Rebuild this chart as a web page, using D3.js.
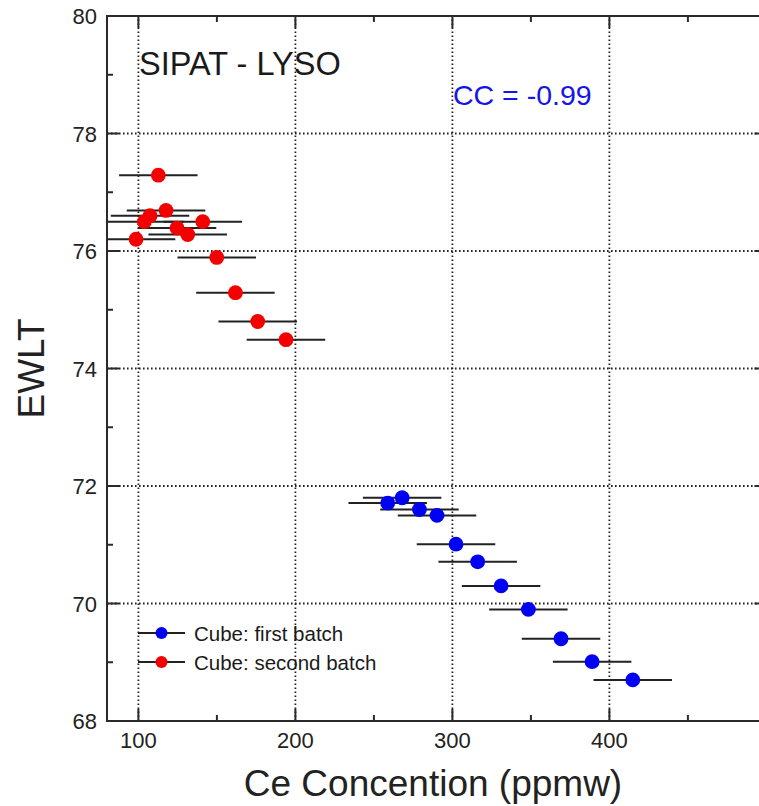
<!DOCTYPE HTML>
<html>
	<head>
		<meta charset="utf-8">
		<title>SIPAT - LYSO EWLT vs Ce</title>
		<style>
body {
  margin: 0;
  background: #fff;
  overflow: hidden;
}
svg {
  display: block;
  font-family: "Liberation Sans", Arial, sans-serif;
}
.frame {
  fill: none;
  stroke: #2a2a2a;
  stroke-width: 2px;
}
.grid {
  stroke: #222;
  stroke-width: 1.8px;
  stroke-dasharray: 1.6,2.4;
}
.tick {
  stroke: #2a2a2a;
  stroke-width: 2px;
}
.errbar {
  stroke: #222;
  stroke-width: 2px;
}
.ticklabel {
  font-size: 22px;
  fill: #222;
}
		</style>
	</head>
	<body>
<script src="https://cdnjs.cloudflare.com/ajax/libs/d3/7.8.5/d3.min.js"></script>
<script>
// values
var firstBatchCe   = [258.8, 268.0, 279.0, 290.2, 302.3, 316.1, 331.0, 348.4, 369.2, 389.0, 414.9];
var firstBatchEwlt = [71.71, 71.80, 71.60, 71.50, 71.01, 70.71, 70.30, 69.90, 69.40, 69.01, 68.70];
var firstBatchErr  = [25, 25, 25, 25, 25, 25, 25, 25, 25, 25, 25];

var secondBatchCe   = [112.7, 117.6, 107.4, 103.8, 141.0, 124.6, 131.4, 98.5, 149.9, 161.8, 176.0, 194.0];
var secondBatchEwlt = [77.29, 76.69, 76.60, 76.50, 76.50, 76.39, 76.28, 76.20, 75.89, 75.29, 74.80, 74.49];
var secondBatchErr  = [25, 25, 25, 25, 25, 25, 25, 25, 25, 25, 25, 25];

var xTicks = [100, 200, 300, 400];
var xMinorTicks = [150, 250, 350, 450];
var yTicks = [68, 70, 72, 74, 76, 78, 80];
var yMinorTicks = [69, 71, 73, 75, 77, 79];

var seriesNames = ["Cube: first batch", "Cube: second batch"];
var seriesColors = ["#0000f5", "#f50000"];

var width = 759,
    height = 806;

var x = d3.scaleLinear().domain([80, 500]).range([107, 766.4]);
var y = d3.scaleLinear().domain([68, 80]).range([721, 16]);

var svg = d3.select("body").append("svg")
    .attr("width", width)
    .attr("height", height);

// clip to plot box
svg.append("clipPath")
    .attr("id", "plotclip")
  .append("rect")
    .attr("x", x.range()[0])
    .attr("y", y.range()[1])
    .attr("width", x.range()[1] - x.range()[0])
    .attr("height", y.range()[0] - y.range()[1]);

// dotted grid
svg.selectAll(".gridx")
    .data(xTicks)
  .enter().append("line")
    .attr("class", "grid")
    .attr("x1", function(d) { return x(d); })
    .attr("x2", function(d) { return x(d); })
    .attr("y1", y.range()[0])
    .attr("y2", y.range()[1]);

svg.selectAll(".gridy")
    .data(yTicks.slice(1, -1))
  .enter().append("line")
    .attr("class", "grid")
    .attr("x1", x.range()[0])
    .attr("x2", x.range()[1])
    .attr("y1", function(d) { return y(d); })
    .attr("y2", function(d) { return y(d); });

// ticks on all four sides
function drawTicks(vals, len, isX) {
  vals.forEach(function(v) {
    if (isX) {
      svg.append("line").attr("class", "tick")
          .attr("x1", x(v)).attr("x2", x(v))
          .attr("y1", y.range()[0]).attr("y2", y.range()[0] - len);
      svg.append("line").attr("class", "tick")
          .attr("x1", x(v)).attr("x2", x(v))
          .attr("y1", y.range()[1]).attr("y2", y.range()[1] + len);
    } else {
      svg.append("line").attr("class", "tick")
          .attr("x1", x.range()[0]).attr("x2", x.range()[0] + len)
          .attr("y1", y(v)).attr("y2", y(v));
      svg.append("line").attr("class", "tick")
          .attr("x1", x.range()[1]).attr("x2", x.range()[1] - len)
          .attr("y1", y(v)).attr("y2", y(v));
    }
  });
}
drawTicks(xTicks, 12, true);
drawTicks(xMinorTicks, 6, true);
drawTicks(yTicks, 12, false);
drawTicks(yMinorTicks, 6, false);

// frame: the right side falls outside the picture
svg.append("path")
    .attr("class", "frame")
    .attr("d", "M" + x.range()[1] + "," + y.range()[1] +
               "H" + x.range()[0] + "V" + y.range()[0] +
               "H" + x.range()[1]);

// tick labels
svg.selectAll(".xlab")
    .data(xTicks)
  .enter().append("text")
    .attr("class", "ticklabel")
    .attr("x", function(d) { return x(d); })
    .attr("y", 748)
    .style("text-anchor", "middle")
    .text(function(d) { return d; });

svg.selectAll(".ylab")
    .data(yTicks)
  .enter().append("text")
    .attr("class", "ticklabel")
    .attr("x", 97)
    .attr("y", function(d) { return y(d) + 8; })
    .style("text-anchor", "end")
    .text(function(d) { return d; });

// axis titles
svg.append("text")
    .attr("x", 433)
    .attr("y", 796)
    .style("text-anchor", "middle")
    .style("font-size", "37px")
    .style("fill", "#222")
    .text("Ce Concention (ppmw)");

svg.append("text")
    .attr("transform", "translate(44," + y(74) + ")rotate(-90)")
    .style("text-anchor", "middle")
    .style("font-size", "37px")
    .style("fill", "#222")
    .text("EWLT");

// annotations
svg.append("text")
    .attr("x", 139)
    .attr("y", 75)
    .style("font-size", "32.5px")
    .style("fill", "#1a1a1a")
    .text("SIPAT - LYSO");

svg.append("text")
    .attr("x", 453)
    .attr("y", 105)
    .style("font-size", "28.5px")
    .style("fill", "#1515e8")
    .text("CC = -0.99");

// data
var series = [
  { ce: firstBatchCe, ewlt: firstBatchEwlt, err: firstBatchErr, color: seriesColors[0] },
  { ce: secondBatchCe, ewlt: secondBatchEwlt, err: secondBatchErr, color: seriesColors[1] }
];

var plot = svg.append("g").attr("clip-path", "url(#plotclip)");

series.forEach(function(s) {
  var pts = s.ce.map(function(c, i) { return { x: c, y: s.ewlt[i], e: s.err[i] }; });

  plot.selectAll(null)
      .data(pts)
    .enter().append("line")
      .attr("class", "errbar")
      .attr("x1", function(d) { return x(d.x - d.e); })
      .attr("x2", function(d) { return x(d.x + d.e); })
      .attr("y1", function(d) { return y(d.y); })
      .attr("y2", function(d) { return y(d.y); });
});

series.forEach(function(s) {
  var pts = s.ce.map(function(c, i) { return { x: c, y: s.ewlt[i] }; });

  plot.selectAll(null)
      .data(pts)
    .enter().append("circle")
      .attr("cx", function(d) { return x(d.x); })
      .attr("cy", function(d) { return y(d.y); })
      .attr("r", 7.4)
      .style("fill", s.color);
});

// legend
var legend = svg.selectAll(".legend")
    .data(seriesNames)
  .enter().append("g")
    .attr("transform", function(d, i) { return "translate(138," + (633 + i * 29) + ")"; });

legend.append("line")
    .attr("class", "errbar")
    .attr("x1", 0)
    .attr("x2", 47)
    .attr("y1", 0)
    .attr("y2", 0);

legend.append("circle")
    .attr("cx", 23.5)
    .attr("cy", 0)
    .attr("r", 6)
    .style("fill", function(d, i) { return seriesColors[i]; });

legend.append("text")
    .attr("x", 56)
    .attr("y", 7.5)
    .style("font-size", "20.5px")
    .style("fill", "#1a1a1a")
    .text(function(d) { return d; });
</script>
</body>
</html>
